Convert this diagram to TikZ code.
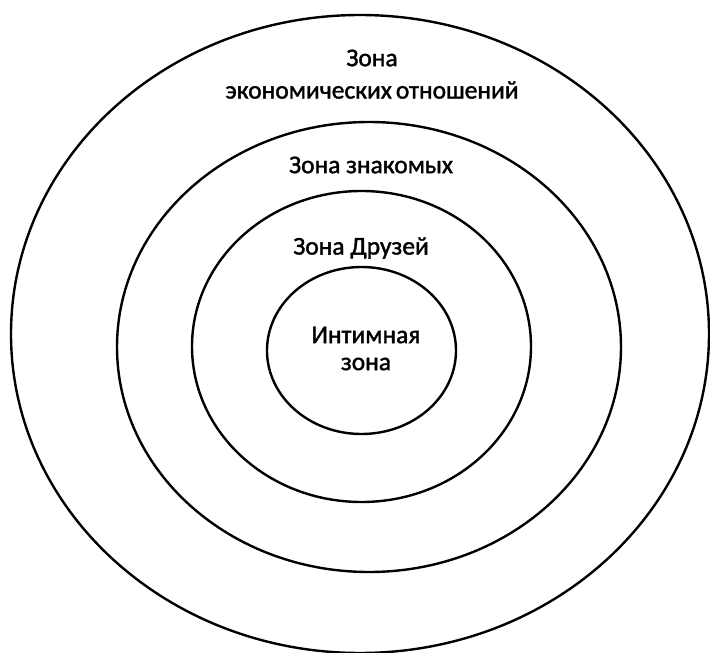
\documentclass[tikz,border=0pt]{standalone}
\usepackage{fontspec}
\setmainfont{Carlito}
\newfontfamily\lblfont{Carlito}[FakeBold=1.5]
\usetikzlibrary{shapes.geometric}
\begin{document}
\begin{tikzpicture}[x=1pt,y=-1pt,
  zone/.style={draw=black,line width=2.4pt},
  lbl/.style={font=\lblfont\fontsize{25.5}{30}\selectfont,align=center,inner sep=0pt}]
\useasboundingbox (0,0) rectangle (710,653);
\draw[zone] (360,334) ellipse [x radius=349,y radius=319];
\draw[zone] (369,347) ellipse [x radius=252,y radius=225];
\draw[zone] (361.5,346.5) ellipse [x radius=169.5,y radius=155.5];
\draw[zone] (361.5,350.5) ellipse [x radius=94.5,y radius=83.5];
\node[lbl] (t1) at (372,58) {Зона};
\node[lbl] (t2) at (372,90) {экономических\hspace{4pt}отношений};
\node[lbl] (t3) at (371,165) {Зона знакомых};
\node[lbl] (t4) at (361,248) {Зона Друзей};
\node[lbl] (t5) at (366,335) {Интимная};
\node[lbl] (t6) at (366,364) {зона};
\end{tikzpicture}
\end{document}
